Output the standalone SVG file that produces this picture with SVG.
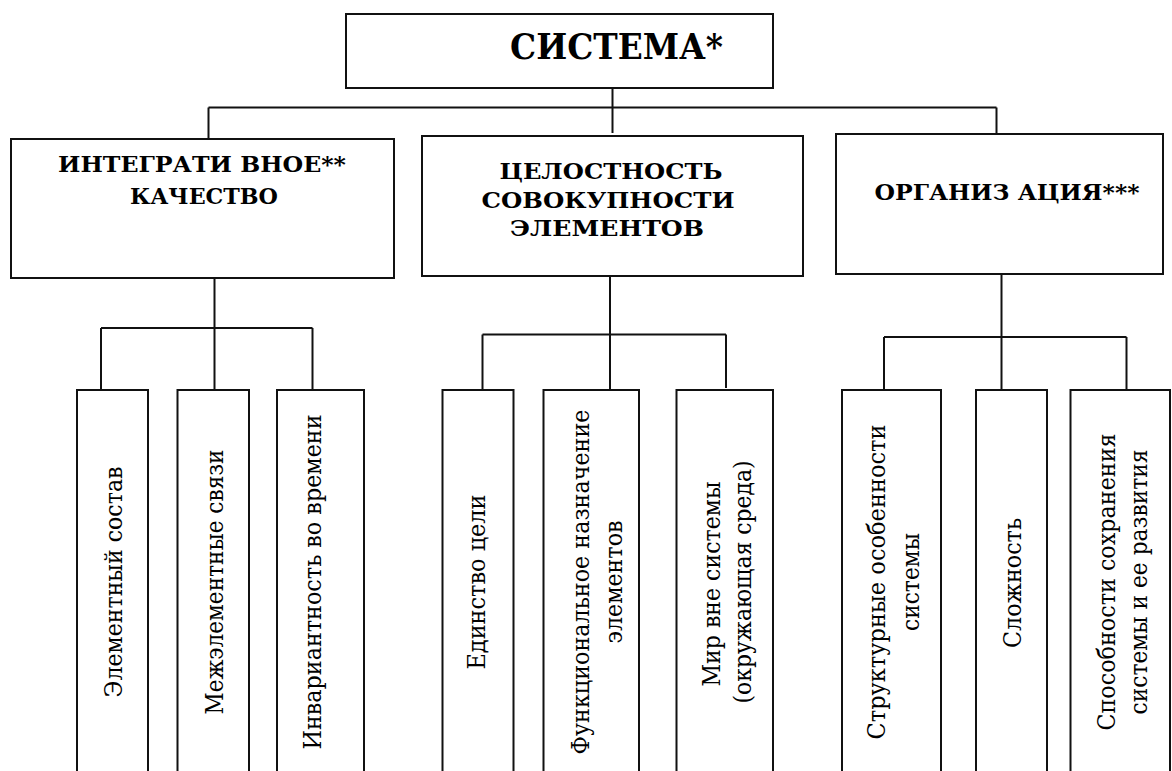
<svg xmlns="http://www.w3.org/2000/svg" width="1172" height="771" viewBox="0 0 1172 771">
  <style>
    .box { fill: #fff; stroke: #111; stroke-width: 2; }
    .link { fill: none; stroke: #111; stroke-width: 2; }
    text { font-family: "DejaVu Serif", "Liberation Serif", "Times New Roman", serif; fill: #000; text-anchor: middle; }
    .title { font-weight: bold; font-size: 36px; }
    .head { font-weight: bold; font-size: 23px; }
    .leaf { font-size: 25px; }
  </style>
  <rect width="1172" height="771" fill="#fff"/>

  <!-- connectors -->
  <g id="connectors" class="link">
    <path d="M612.5 88 V133"/>
    <path d="M208.5 107.5 H996.5"/>
    <path d="M208.5 107.5 V139"/>
    <path d="M996.5 107.5 V134"/>

    <path d="M214.5 278 V390"/>
    <path d="M101 328 H312.5"/>
    <path d="M101 328 V390"/>
    <path d="M312.5 328 V390"/>

    <path d="M610 276 V390"/>
    <path d="M482.5 334.5 H726"/>
    <path d="M482.5 334.5 V389"/>
    <path d="M726 334.5 V388"/>

    <path d="M1001.5 274 V390"/>
    <path d="M884 337 H1126.5"/>
    <path d="M884 337 V390"/>
    <path d="M1126.5 337 V390"/>
  </g>

  <!-- root -->
  <g id="system">
    <rect class="box" x="346" y="14" width="427" height="74"/>
    <text class="title" x="616.5" y="59" textLength="213" lengthAdjust="spacingAndGlyphs">СИСТЕМА*</text>
  </g>

  <!-- second level -->
  <g id="integrative-quality">
    <rect class="box" x="11" y="139" width="383" height="139"/>
    <text class="head" x="202" y="172" textLength="288" lengthAdjust="spacingAndGlyphs">ИНТЕГРАТИ ВНОЕ**</text>
    <text class="head" x="204" y="203.5" textLength="148" lengthAdjust="spacingAndGlyphs">КАЧЕСТВО</text>
  </g>
  <g id="integrity">
    <rect class="box" x="422" y="136" width="381" height="140"/>
    <text class="head" x="611" y="179" textLength="223" lengthAdjust="spacingAndGlyphs">ЦЕЛОСТНОСТЬ</text>
    <text class="head" x="608" y="208" textLength="253" lengthAdjust="spacingAndGlyphs">СОВОКУПНОСТИ</text>
    <text class="head" x="607" y="236" textLength="194" lengthAdjust="spacingAndGlyphs">ЭЛЕМЕНТОВ</text>
  </g>
  <g id="organization">
    <rect class="box" x="836" y="134" width="327" height="140"/>
    <text class="head" x="1007" y="200" textLength="265" lengthAdjust="spacingAndGlyphs">ОРГАНИЗ АЦИЯ***</text>
  </g>

  <!-- leaves: vertical labels read bottom to top -->
  <g id="element-composition">
    <rect class="box" x="77" y="390" width="71" height="400"/>
    <text class="leaf" transform="translate(121.5 582) rotate(-90)" textLength="231" lengthAdjust="spacingAndGlyphs">Элементный состав</text>
  </g>
  <g id="inter-element-links">
    <rect class="box" x="177.5" y="390" width="71.5" height="400"/>
    <text class="leaf" transform="translate(223 582) rotate(-90)" textLength="265" lengthAdjust="spacingAndGlyphs">Межэлементные связи</text>
  </g>
  <g id="time-invariance">
    <rect class="box" x="277" y="390" width="87" height="400"/>
    <text class="leaf" transform="translate(321 582) rotate(-90)" textLength="335" lengthAdjust="spacingAndGlyphs">Инвариантность во времени</text>
  </g>

  <g id="unity-of-purpose">
    <rect class="box" x="442.5" y="390" width="71" height="400"/>
    <text class="leaf" transform="translate(485 582) rotate(-90)" textLength="175" lengthAdjust="spacingAndGlyphs">Единство цели</text>
  </g>
  <g id="functional-purpose">
    <rect class="box" x="543.5" y="390" width="95.5" height="400"/>
    <text class="leaf" transform="translate(589 582) rotate(-90)" textLength="345" lengthAdjust="spacingAndGlyphs">Функциональное назначение</text>
    <text class="leaf" transform="translate(622 582) rotate(-90)" textLength="123" lengthAdjust="spacingAndGlyphs">элементов</text>
  </g>
  <g id="environment">
    <rect class="box" x="676.5" y="390" width="96.5" height="400"/>
    <text class="leaf" transform="translate(720 584) rotate(-90)" textLength="205" lengthAdjust="spacingAndGlyphs">Мир вне системы</text>
    <text class="leaf" transform="translate(751 582) rotate(-90)" textLength="243" lengthAdjust="spacingAndGlyphs">(окружающая среда)</text>
  </g>

  <g id="structure">
    <rect class="box" x="842" y="390" width="99" height="400"/>
    <text class="leaf" transform="translate(885 582) rotate(-90)" textLength="315" lengthAdjust="spacingAndGlyphs">Структурные особенности</text>
    <text class="leaf" transform="translate(918.5 582) rotate(-90)" textLength="98" lengthAdjust="spacingAndGlyphs">системы</text>
  </g>
  <g id="complexity">
    <rect class="box" x="976" y="390" width="71" height="400"/>
    <text class="leaf" transform="translate(1020.5 583) rotate(-90)" textLength="130" lengthAdjust="spacingAndGlyphs">Сложность</text>
  </g>
  <g id="sustainability">
    <rect class="box" x="1070.5" y="390" width="99.5" height="400"/>
    <text class="leaf" transform="translate(1115 582) rotate(-90)" textLength="297" lengthAdjust="spacingAndGlyphs">Способности сохранения</text>
    <text class="leaf" transform="translate(1147 582) rotate(-90)" textLength="265" lengthAdjust="spacingAndGlyphs">системы и ее развития</text>
  </g>
</svg>
